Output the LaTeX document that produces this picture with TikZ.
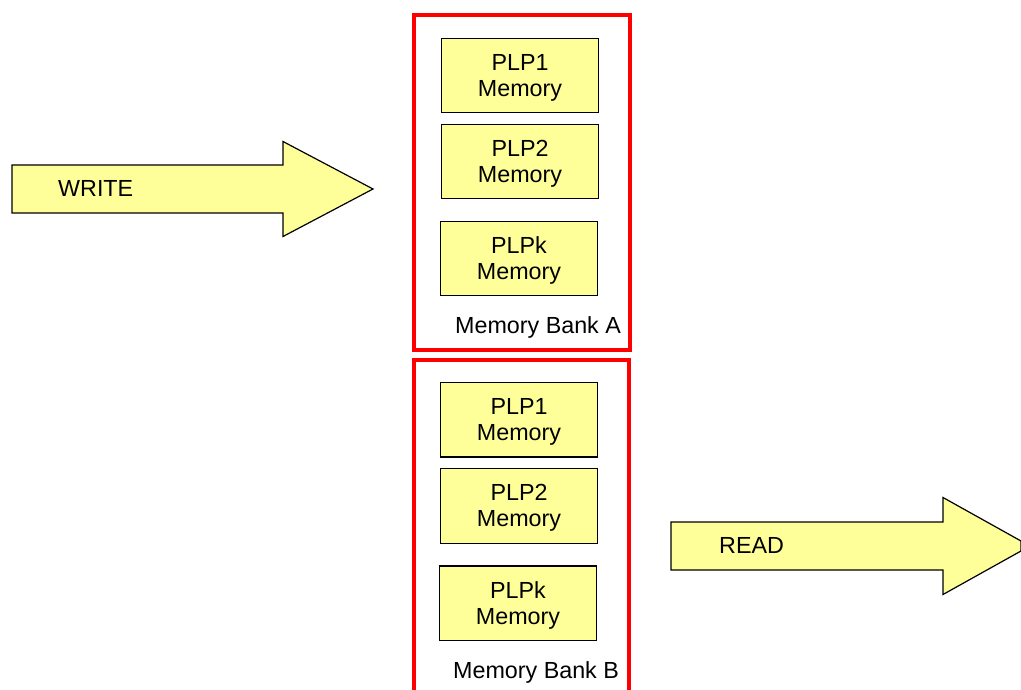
\documentclass[tikz,border=0pt]{standalone}
\usepackage{fontspec}
\setmainfont{Liberation Sans}
\definecolor{memfill}{HTML}{FFFF99}
\definecolor{bankred}{HTML}{FF0000}
\begin{document}
\begin{tikzpicture}[x=1pt,y=-1pt,
  memtext/.style={font=\fontsize{23.3}{26}\selectfont},
  boxtext/.style={memtext,align=center,yshift=-2pt},
  membox/.style={draw=black,line width=1.2pt,fill=memfill},
  bankbox/.style={draw=bankred,line width=4pt},
  bigarrow/.style={draw=black,line width=1.2pt,fill=memfill,line join=miter}]
\useasboundingbox (0,0) rectangle (1021,690);
\clip (0,0) rectangle (1021,690);
\fill[white] (0,0) rectangle (1021,690);

% Memory bank A
\draw[bankbox] (414,15) rectangle (629.5,350);
\draw[bankbox] (414,360) rectangle (628.5,700);

% boxes in bank A
\draw[membox] (441.5,38.5) rectangle (598.5,112.5);
\node[boxtext] (a1) at (520,75.5) {PLP1\\Memory};
\draw[membox] (441.5,124.5) rectangle (598.5,198.5);
\node[boxtext] (a2) at (520,161.5) {PLP2\\Memory};
\draw[membox] (440.5,221.5) rectangle (597.5,295.5);
\node[boxtext] (ak) at (519,258.5) {PLPk\\Memory};
\node[memtext,anchor=base west,inner sep=0pt] (bankA) at (455,333) {Memory Bank A};

% boxes in bank B
\draw[membox] (440.5,382.5) rectangle (597.5,457);
\node[boxtext] (b1) at (519,419.5) {PLP1\\Memory};
\draw[membox] (440.5,468.5) rectangle (597.5,543.5);
\node[boxtext] (b2) at (519,506) {PLP2\\Memory};
\draw[membox] (439.5,566) rectangle (596.5,640.5);
\node[boxtext] (bk) at (518,603) {PLPk\\Memory};
\node[memtext,anchor=base west,inner sep=0pt] (bankB) at (453,678) {Memory Bank B};

% WRITE arrow
\draw[bigarrow] (12,165) -- (283,165) -- (283,141.5) -- (373,189) -- (283,236.5) -- (283,213) -- (12,213) -- cycle;
\node[memtext,anchor=base west,inner sep=0pt] (write) at (58,196.5) {WRITE};

% READ arrow
\draw[bigarrow] (671,522) -- (943,522) -- (943,497.5) -- (1021,541) -- (1021,551) -- (943,594.5) -- (943,570) -- (671,570) -- cycle;
\node[memtext,anchor=base west,inner sep=0pt] (read) at (719,553) {READ};
\end{tikzpicture}
\end{document}
